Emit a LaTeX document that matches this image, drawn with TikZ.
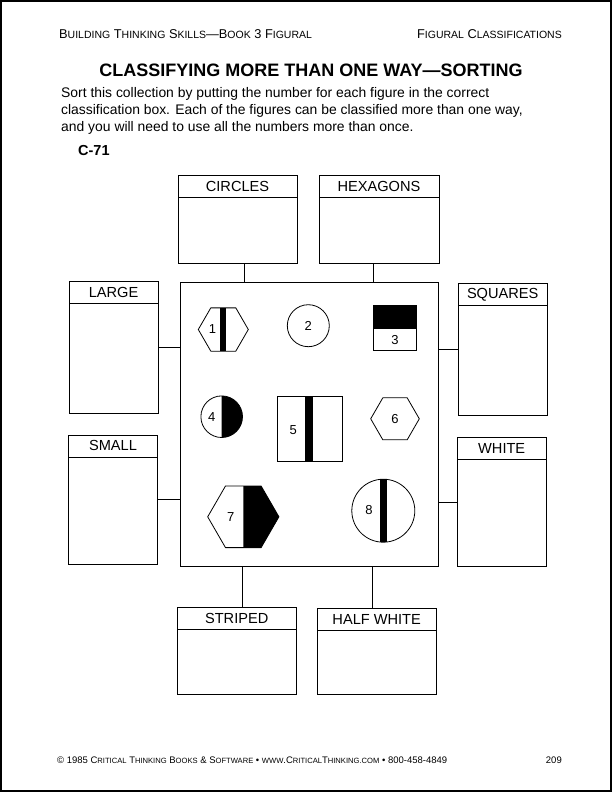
\documentclass[tikz,border=0pt]{standalone}
\usepackage{fontspec}
\setmainfont{Liberation Sans}
\usetikzlibrary{positioning}

\newcommand{\headsc}[1]{{\fontsize{10.5}{12}\selectfont #1}}
\newcommand{\footsc}[1]{{\fontsize{7.6}{9}\selectfont #1}}

\tikzset{
    classbox/.style={draw, line width=0.9pt, inner sep=0pt},
    classhead/.style={draw, line width=0.9pt, inner sep=0pt, anchor=north,
        minimum height=22pt, font=\fontsize{14.6}{16}\selectfont},
    link/.style={line width=0.9pt},
    figline/.style={line width=0.8pt},
    fignum/.style={inner sep=0pt, font=\fontsize{13}{15}\selectfont},
}

\begin{document}
\begin{tikzpicture}[x=1pt, y=-1pt]

    \useasboundingbox (0,0) rectangle (612,792);

    % Page frame
    \draw[line width=2pt] (1,1) rectangle (611,791);

    % Running heads
    \node[anchor=base west, inner sep=0pt, font=\fontsize{12.8}{14}\selectfont] (bookhead) at (59,38)
        {B\headsc{UILDING} T\headsc{HINKING} S\headsc{KILLS}---B\headsc{OOK} 3 F\headsc{IGURAL}};
    \node[anchor=base east, inner sep=0pt, font=\fontsize{12.8}{14}\selectfont] (sectionhead) at (562,38)
        {F\headsc{IGURAL} C\headsc{LASSIFICATIONS}};

    % Title and directions
    \node[anchor=base, inner sep=0pt, font=\bfseries\fontsize{18}{20}\selectfont] (title) at (311,76)
        {CLASSIFYING MORE THAN ONE WAY---SORTING};
    \node[anchor=base west, inner sep=0pt, font=\fontsize{13.9}{17}\selectfont] (intro1) at (61,97)
        {Sort this collection by putting the number for each figure in the correct};
    \node[anchor=base west, inner sep=0pt, font=\fontsize{13.9}{17}\selectfont] (intro2) at (61,114)
        {classification box. Each of the figures can be classified more than one way,};
    \node[anchor=base west, inner sep=0pt, font=\fontsize{13.9}{17}\selectfont] (intro3) at (61,131)
        {and you will need to use all the numbers more than once.};
    \node[anchor=base west, inner sep=0pt, font=\bfseries\fontsize{14.5}{16}\selectfont] (item) at (78,155) {C-71};

    % Collection box
    \node[classbox, minimum width=258pt, minimum height=284pt] (main) at (309,424) {};

    % Classification boxes
    \node[classbox, minimum width=119pt, minimum height=88pt] (circles) at (237.5,219) {};
    \node[classhead, minimum width=119pt] (circleshead) at (circles.north) {CIRCLES};
    \node[classbox, minimum width=120pt, minimum height=88pt] (hexagons) at (379,219) {};
    \node[classhead, minimum width=120pt] (hexagonshead) at (hexagons.north) {HEXAGONS};

    \node[classbox, minimum width=89pt, minimum height=131.5pt] (large) at (113.5,347.5) {};
    \node[classhead, minimum width=89pt] (largehead) at (large.north) {LARGE};
    \node[classbox, minimum width=89pt, minimum height=129.5pt] (small) at (113,499.7) {};
    \node[classhead, minimum width=89pt] (smallhead) at (small.north) {SMALL};

    \node[classbox, minimum width=88.5pt, minimum height=132pt] (squares) at (502.7,349.6) {};
    \node[classhead, minimum width=88.5pt] (squareshead) at (squares.north) {SQUARES};
    \node[classbox, minimum width=88.5pt, minimum height=129pt] (white) at (501.7,502) {};
    \node[classhead, minimum width=88.5pt] (whitehead) at (white.north) {WHITE};

    \node[classbox, minimum width=118.5pt, minimum height=86.5pt] (striped) at (236.7,650.7) {};
    \node[classhead, minimum width=118.5pt] (stripedhead) at (striped.north) {STRIPED};
    \node[classbox, minimum width=119.5pt, minimum height=85.5pt] (halfwhite) at (376.7,651.2) {};
    \node[classhead, minimum width=119.5pt] (halfwhitehead) at (halfwhite.north) {HALF WHITE};

    % Connectors
    \draw[link] ([xshift=6.8pt]circles.south) -- ([xshift=6.8pt]circles.south |- main.north);
    \draw[link] ([xshift=-5.7pt]hexagons.south) -- ([xshift=-5.7pt]hexagons.south |- main.north);
    \draw[link] (large.east) -- (large.east -| main.west);
    \draw[link] (small.east) -- (small.east -| main.west);
    \draw[link] (squares.west) -- (squares.west -| main.east);
    \draw[link] (white.west) -- (white.west -| main.east);
    \draw[link] ([xshift=5.6pt]striped.north) -- ([xshift=5.6pt]striped.north |- main.south);
    \draw[link] ([xshift=-4.4pt]halfwhite.north) -- ([xshift=-4.4pt]halfwhite.north |- main.south);

    % Figure 1: striped hexagon
    \fill (220,307.85) rectangle (226,351.15);
    \draw[figline] (223.3,329.5) +(0:25) -- +(60:25) -- +(120:25) -- +(180:25) -- +(240:25) -- +(300:25) -- cycle;
    \node[fignum] (n1) at (212.5,329.5) {1};

    % Figure 2: white circle
    \draw[figline] (308.3,325.7) circle[radius=21];
    \node[fignum] (n2) at (308.3,325.7) {2};

    % Figure 3: half white square
    \fill (373.3,305) rectangle (416.7,328.5);
    \draw[figline] (373.3,305) rectangle (416.7,350);
    \node[fignum] (n3) at (395,340.5) {3};

    % Figure 4: half white circle
    \begin{scope}
        \clip (221.7,390) rectangle (250,445);
        \fill (221.7,416.7) circle[radius=20.8];
    \end{scope}
    \draw[figline] (221.7,416.7) circle[radius=20.8];
    \node[fignum] (n4) at (211.7,416.7) {4};

    % Figure 5: striped rectangle
    \fill (305,396.7) rectangle (313.3,461.7);
    \draw[figline] (277.3,396.7) rectangle (342.7,461.7);
    \node[fignum] (n5) at (293.3,430) {5};

    % Figure 6: white hexagon
    \draw[figline] (395,418.8) +(0:24.3) -- +(60:24.3) -- +(120:24.3) -- +(180:24.3) -- +(240:24.3) -- +(300:24.3) -- cycle;
    \node[fignum] (n6) at (395,419) {6};

    % Figure 7: half white hexagon
    \fill (243.3,486) -- (261.1,486) -- (279,516.8) -- (261.1,547.6) -- (243.3,547.6) -- cycle;
    \draw[figline] (243.3,516.8) +(0:35.6) -- +(60:35.6) -- +(120:35.6) -- +(180:35.6) -- +(240:35.6) -- +(300:35.6) -- cycle;
    \node[fignum] (n7) at (230.7,516.7) {7};

    % Figure 8: striped circle
    \fill (380,479.3) rectangle (387.3,542.1);
    \draw[figline] (383.3,510.7) circle[radius=31.5];
    \node[fignum] (n8) at (369,510) {8};

    % Footer
    \node[anchor=base west, inner sep=0pt, font=\fontsize{9.5}{11}\selectfont] (credit) at (57,763)
        {\textcopyright{} 1985 C\footsc{RITICAL} T\footsc{HINKING} B\footsc{OOKS} \& S\footsc{OFTWARE} \textbullet{} \footsc{WWW}.C\footsc{RITICAL}T\footsc{HINKING}\footsc{.COM} \textbullet{} 800-458-4849};
    \node[anchor=base east, inner sep=0pt, font=\fontsize{9.5}{11}\selectfont] (pagenum) at (562,763) {209};

\end{tikzpicture}
\end{document}
